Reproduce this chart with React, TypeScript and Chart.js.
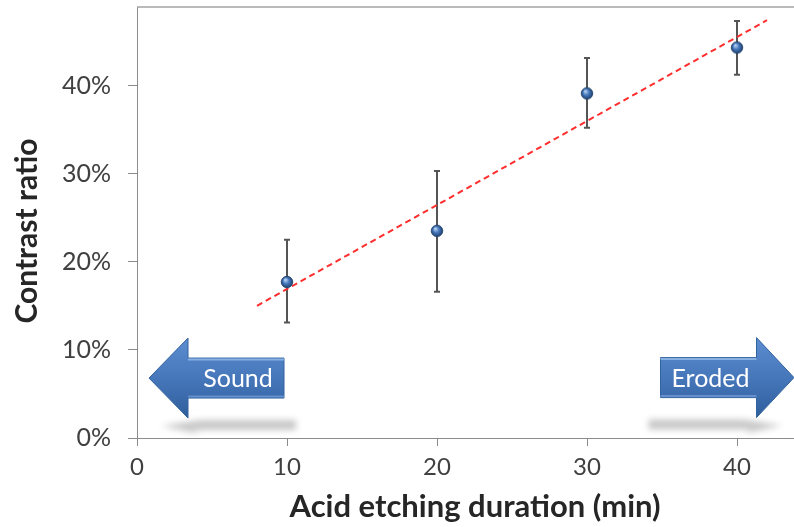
import React, { useEffect, useRef } from 'react';
import { Chart, registerables } from 'chart.js';

Chart.register(...registerables);

// ---- data ----
const durations = [10, 20, 30, 40];
const contrast = [17.7, 23.5, 39.1, 44.3];
const errUpper = [22.5, 30.3, 43.1, 47.3];
const errLower = [13.1, 16.6, 35.2, 41.2];
const trendX = [8, 42];
const trendY = [15.0, 47.4];
const xTicks = [0, 10, 20, 30, 40];
const yTicks = [0, 10, 20, 30, 40];
const xTitle = 'Acid etching duration (min)';
const yTitle = 'Contrast ratio';

// ---- annotation arrows (data units) ----
const arrowLabels = ['Sound', 'Eroded'];
const arrowTailX = [9.8, 34.9];
const arrowHeadBaseX = [3.4, 41.3];
const arrowTipX = [0.8, 43.8];
const arrowCenterY = [6.8, 6.85];

const FONT = 'Lato, "Open Sans", sans-serif';

function makeSphere(r: number) {
  const c = document.createElement('canvas');
  const s = Math.ceil(r * 2 + 2);
  c.width = s;
  c.height = s;
  const g = c.getContext('2d')!;
  const cx = s / 2, cy = s / 2;
  const grad = g.createRadialGradient(cx - r * 0.3, cy - r * 0.4, r * 0.1, cx, cy, r);
  grad.addColorStop(0, '#b5cff0');
  grad.addColorStop(0.45, '#4a7cc0');
  grad.addColorStop(1, '#1d3f6e');
  g.beginPath();
  g.arc(cx, cy, r, 0, Math.PI * 2);
  g.fillStyle = grad;
  g.fill();
  g.lineWidth = 0.8;
  g.strokeStyle = '#21426b';
  g.stroke();
  return c;
}

function arrowPath(ctx: CanvasRenderingContext2D, tip: number, head: number, tail: number, cy: number, bodyH: number, headH: number) {
  ctx.beginPath();
  ctx.moveTo(tip, cy);
  ctx.lineTo(head, cy - headH);
  ctx.lineTo(head, cy - bodyH);
  ctx.lineTo(tail, cy - bodyH);
  ctx.lineTo(tail, cy + bodyH);
  ctx.lineTo(head, cy + bodyH);
  ctx.lineTo(head, cy + headH);
  ctx.closePath();
}

const errorBarPlugin = {
  id: 'errorBars',
  beforeDatasetsDraw(chart: any) {
    const { ctx, scales } = chart;
    const x = scales.x, y = scales.y;
    ctx.save();
    ctx.strokeStyle = '#555555';
    ctx.lineWidth = 2;
    durations.forEach((d, i) => {
      const px = x.getPixelForValue(d);
      const top = y.getPixelForValue(errUpper[i]);
      const bot = y.getPixelForValue(errLower[i]);
      ctx.beginPath();
      ctx.moveTo(px, top);
      ctx.lineTo(px, bot);
      ctx.moveTo(px - 3, top);
      ctx.lineTo(px + 3, top);
      ctx.moveTo(px - 3, bot);
      ctx.lineTo(px + 3, bot);
      ctx.stroke();
    });
    ctx.restore();
  },
};

const framePlugin = {
  id: 'frameAndTitles',
  afterDraw(chart: any) {
    const { ctx, chartArea } = chart;
    ctx.save();
    ctx.strokeStyle = '#a3a3a3';
    ctx.lineWidth = 1.5;
    ctx.beginPath();
    ctx.moveTo(chartArea.left, chartArea.top);
    ctx.lineTo(chart.width, chartArea.top);
    ctx.stroke();

    // axis titles
    ctx.fillStyle = '#262626';
    ctx.textAlign = 'center';
    ctx.textBaseline = 'middle';
    ctx.font = 'bold 31px ' + FONT;
    ctx.fillText(xTitle, chartArea.left + 338, chartArea.bottom + 69);
    ctx.translate(chartArea.left - 110, chartArea.top + 224);
    ctx.rotate(-Math.PI / 2);
    ctx.font = 'bold 30px ' + FONT;
    ctx.fillText(yTitle, 0, 0);
    ctx.restore();
  },
};

const arrowPlugin = {
  id: 'arrows',
  afterDatasetsDraw(chart: any) {
    const { ctx, scales } = chart;
    const x = scales.x, y = scales.y;
    const bodyH = 20, headH = 40;
    arrowLabels.forEach((label, i) => {
      const tip = x.getPixelForValue(arrowTipX[i]);
      const head = x.getPixelForValue(arrowHeadBaseX[i]);
      const tail = x.getPixelForValue(arrowTailX[i]);
      const cy = y.getPixelForValue(arrowCenterY[i]);
      const dir = tip > tail ? 1 : -1;

      // soft, flattened shadow below the arrow
      const sh = -dir * 12;
      const top = cy + 42;
      ctx.save();
      ctx.filter = 'blur(3px)';
      ctx.beginPath();
      ctx.moveTo(tip + sh, top + 6);
      ctx.lineTo(head + sh, top);
      ctx.lineTo(tail + sh, top);
      ctx.lineTo(tail + sh, top + 10);
      ctx.lineTo(head + sh + dir * 6, top + 10);
      ctx.lineTo(head + sh, top + 14);
      ctx.closePath();
      ctx.fillStyle = 'rgba(190,190,190,0.85)';
      ctx.fill();
      ctx.restore();

      // arrow body
      ctx.save();
      const grad = ctx.createLinearGradient(0, cy - headH, 0, cy + headH);
      grad.addColorStop(0, '#5b8dd0');
      grad.addColorStop(0.5, '#4677ba');
      grad.addColorStop(1, '#2f5e9c');
      arrowPath(ctx, tip, head, tail, cy, bodyH, headH);
      ctx.fillStyle = grad;
      ctx.fill();
      ctx.lineWidth = 1;
      ctx.strokeStyle = '#33639f';
      ctx.stroke();
      ctx.strokeStyle = 'rgba(160,195,240,0.7)';
      ctx.lineWidth = 2;
      ctx.beginPath();
      ctx.moveTo(tail, cy - bodyH + 1.5);
      ctx.lineTo(head, cy - bodyH + 1.5);
      ctx.stroke();
      ctx.strokeStyle = 'rgba(120,160,220,0.7)';
      ctx.beginPath();
      ctx.moveTo(tail, cy + bodyH - 1.5);
      ctx.lineTo(head, cy + bodyH - 1.5);
      ctx.stroke();

      ctx.fillStyle = '#ffffff';
      ctx.font = '25px ' + FONT;
      ctx.textAlign = 'center';
      ctx.textBaseline = 'middle';
      ctx.fillText(label, (head + tail) / 2 + 2, cy + 1);
      ctx.restore();
    });
  },
};

export default function App() {
  const ref = useRef<HTMLCanvasElement | null>(null);

  useEffect(() => {
    document.body.style.margin = '0';
    const canvas = ref.current!;
    const sphere = makeSphere(5.8);
    const chart = new Chart(canvas, {
      type: 'scatter',
      data: {
        datasets: [
          {
            label: 'Contrast ratio',
            data: durations.map((d, i) => ({ x: d, y: contrast[i] })),
            pointStyle: sphere as any,
            pointRadius: 6,
            showLine: false,
          } as any,
          {
            type: 'line',
            label: 'Trend',
            data: trendX.map((v, i) => ({ x: v, y: trendY[i] })),
            borderColor: '#ff2e2e',
            borderWidth: 2,
            borderDash: [6, 4],
            pointRadius: 0,
            fill: false,
          } as any,
        ],
      },
      options: {
        animation: false,
        responsive: false,
        devicePixelRatio: 1,
        layout: { padding: { top: 7, right: 0, left: 0, bottom: 0 } },
        plugins: { legend: { display: false }, tooltip: { enabled: false } },
        scales: {
          x: {
            type: 'linear',
            min: 0,
            max: 43.8,
            afterBuildTicks: (s: any) => {
              s.ticks = xTicks.map((v) => ({ value: v }));
            },
            afterFit: (s: any) => {
              s.height = 89;
              s.paddingLeft = 0;
              s.paddingRight = 0;
            },
            grid: { display: true, drawOnChartArea: false, drawTicks: true, tickLength: 8, color: '#8c8c8c' },
            border: { display: true, color: '#8c8c8c', width: 1 },
            ticks: { color: '#404040', font: { family: FONT, size: 24 }, padding: 7, maxRotation: 0 },
          },
          y: {
            type: 'linear',
            min: 0,
            max: 48.9,
            afterBuildTicks: (s: any) => {
              s.ticks = yTicks.map((v) => ({ value: v }));
            },
            afterFit: (s: any) => {
              s.width = 137;
              s.paddingTop = 0;
              s.paddingBottom = 0;
            },
            grid: { display: true, drawOnChartArea: false, drawTicks: true, tickLength: 9, color: '#8c8c8c' },
            border: { display: true, color: '#8c8c8c', width: 1 },
            ticks: {
              color: '#404040',
              font: { family: FONT, size: 25 },
              padding: 17,
              callback: (v: any) => v + '%',
            },
          },
        },
      },
      plugins: [errorBarPlugin, arrowPlugin, framePlugin],
    });
    return () => chart.destroy();
  }, []);

  return (
    <div style={{ width: 794, height: 527, overflow: 'hidden' }}>
      <canvas ref={ref} width={801} height={527} style={{ display: 'block' }} />
    </div>
  );
}
